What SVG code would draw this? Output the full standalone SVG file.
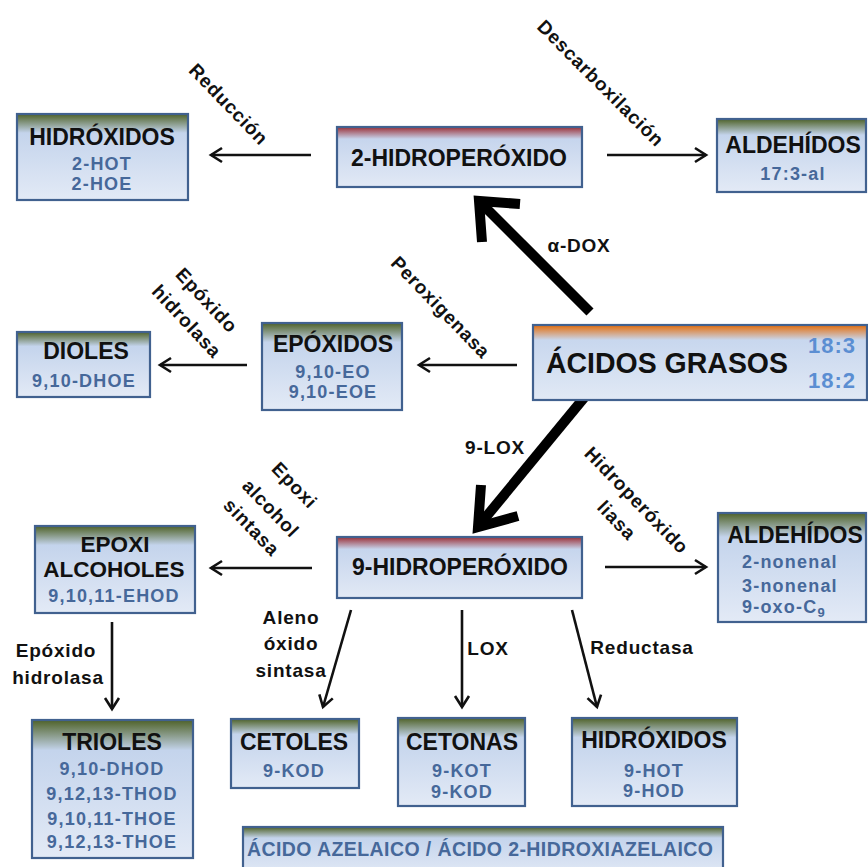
<svg xmlns="http://www.w3.org/2000/svg" width="868" height="867" viewBox="0 0 868 867">
<style>
.box{stroke:#41618f;stroke-width:2.2}
.t{font-family:"Liberation Sans",Arial,sans-serif;font-weight:bold;fill:#111;text-anchor:middle}
.title{font-size:23px}
.sub{font-size:18px;letter-spacing:1.2px;fill:#46689a}
.lab{font-family:"Liberation Sans",Arial,sans-serif;font-weight:bold;font-size:19px;letter-spacing:0.8px;fill:#111;text-anchor:middle}
.ln{stroke:#111;stroke-width:2.6;fill:none;marker-end:url(#ah)}
.thick{stroke:#000;stroke-width:10;fill:none}
</style>
<defs>
<linearGradient id="gG" x1="0" y1="0" x2="0" y2="1">
<stop offset="0" stop-color="#4f6228"/><stop offset="0.22" stop-color="#c4d4ec"/><stop offset="1" stop-color="#e3eaf6"/>
</linearGradient>
<linearGradient id="gR" x1="0" y1="0" x2="0" y2="1">
<stop offset="0" stop-color="#9b2f36"/><stop offset="0.2" stop-color="#c6d5ed"/><stop offset="1" stop-color="#e2e9f5"/>
</linearGradient>
<linearGradient id="gO" x1="0" y1="0" x2="0" y2="1">
<stop offset="0" stop-color="#e46c0a"/><stop offset="0.2" stop-color="#c8d7ee"/><stop offset="1" stop-color="#e1e9f5"/>
</linearGradient>
<marker id="ah" markerUnits="userSpaceOnUse" markerWidth="20" markerHeight="20" refX="0" refY="0" viewBox="-14 -10 16 20" orient="auto">
<path d="M-11,-7 L0,0 L-11,7" fill="none" stroke="#111" stroke-width="2.6"/>
</marker>
</defs>
<rect width="868" height="867" fill="#fff"/>

<g id="connectors">
<line class="ln" x1="311" y1="155" x2="211" y2="155"/>
<line class="ln" x1="607" y1="155" x2="706" y2="155"/>
<line class="ln" x1="247" y1="365" x2="160" y2="365"/>
<line class="ln" x1="517" y1="365" x2="419" y2="365"/>
<line class="ln" x1="312" y1="568" x2="211" y2="568"/>
<line class="ln" x1="605" y1="567" x2="706" y2="567"/>
<line class="ln" x1="112" y1="622" x2="112" y2="709"/>
<line class="ln" x1="351" y1="610" x2="323" y2="707"/>
<line class="ln" x1="462" y1="610" x2="462" y2="707"/>
<line class="ln" x1="572" y1="610" x2="597" y2="707"/>
<path class="thick" d="M590,312 L482,204"/>
<path class="thick" d="M520,204 L479,201 L482,242" stroke-linejoin="miter"/>
<path class="thick" d="M588,393 L481,523"/>
<path class="thick" d="M518,516 L478,527 L481,485" stroke-linejoin="miter"/>
<text class="lab" transform="translate(229,104) rotate(46)" dy="7">Reducción</text>
<text class="lab" transform="translate(601,83) rotate(45)" dy="7">Descarboxilación</text>
<text class="lab" transform="translate(207,300) rotate(47)" dy="7">Epóxido</text>
<text class="lab" transform="translate(187,321) rotate(47)" dy="7">hidrolasa</text>
<text class="lab" transform="translate(441,307) rotate(46)" dy="7">Peroxigenasa</text>
<text class="lab" x="579" y="252">α-DOX</text>
<text class="lab" x="495" y="454">9-LOX</text>
<text class="lab" transform="translate(637,500) rotate(46)" dy="7">Hidroperóxido</text>
<text class="lab" transform="translate(617,520) rotate(46)" dy="7">liasa</text>
<text class="lab" transform="translate(295,485) rotate(46)" dy="7">Epoxi</text>
<text class="lab" transform="translate(271,508) rotate(46)" dy="7">alcohol</text>
<text class="lab" transform="translate(252,527) rotate(46)" dy="7">sintasa</text>
<text class="lab" x="291" y="624">Aleno</text>
<text class="lab" x="291" y="650">óxido</text>
<text class="lab" x="291" y="677">sintasa</text>
<text class="lab" x="488" y="655">LOX</text>
<text class="lab" x="642" y="654">Reductasa</text>
<text class="lab" x="56" y="657">Epóxido</text>
<text class="lab" x="58" y="684">hidrolasa</text>
</g>

<g id="hidroxidos-top">
<rect class="box" x="17" y="114" width="171" height="86" fill="url(#gG)"/>
<text class="t title" x="102" y="145">HIDRÓXIDOS</text>
<text class="t sub" x="102" y="169.5">2-HOT</text>
<text class="t sub" x="102" y="190">2-HOE</text>
</g>
<g id="hidroperoxido-2">
<rect class="box" x="337" y="127" width="245" height="60" fill="url(#gR)"/>
<text class="t title" x="459" y="166">2-HIDROPERÓXIDO</text>
</g>
<g id="aldehidos-top">
<rect class="box" x="717" y="119" width="149" height="73" fill="url(#gG)"/>
<text class="t title" x="793" y="153">ALDEHÍDOS</text>
<text class="t sub" x="793" y="180">17:3-al</text>
</g>
<g id="dioles">
<rect class="box" x="17" y="332" width="133" height="65" fill="url(#gG)"/>
<text class="t title" x="86" y="359">DIOLES</text>
<text class="t sub" x="84" y="387">9,10-DHOE</text>
</g>
<g id="epoxidos">
<rect class="box" x="262" y="323" width="140" height="87" fill="url(#gG)"/>
<text class="t title" x="333" y="352">EPÓXIDOS</text>
<text class="t sub" x="333" y="377.5">9,10-EO</text>
<text class="t sub" x="333" y="398">9,10-EOE</text>
</g>
<g id="acidos-grasos">
<rect class="box" x="533" y="325" width="334" height="75" fill="url(#gO)"/>
<text class="t" style="font-size:29px" x="667" y="373" textLength="242" lengthAdjust="spacingAndGlyphs">ÁCIDOS GRASOS</text>
<text class="t" style="font-size:22px;letter-spacing:1px;fill:#5b8ed2" x="832" y="353">18:3</text>
<text class="t" style="font-size:22px;letter-spacing:1px;fill:#5b8ed2" x="832" y="388">18:2</text>
</g>
<g id="hidroperoxido-9">
<rect class="box" x="337" y="537" width="245" height="61" fill="url(#gR)"/>
<text class="t title" x="460" y="575">9-HIDROPERÓXIDO</text>
</g>
<g id="epoxi-alcoholes">
<rect class="box" x="35" y="526" width="160" height="87" fill="url(#gG)"/>
<text class="t" style="font-size:22.5px" x="115" y="551.5">EPOXI</text>
<text class="t" style="font-size:22.5px" x="114" y="577">ALCOHOLES</text>
<text class="t sub" x="114" y="602">9,10,11-EHOD</text>
</g>
<g id="aldehidos-bottom">
<rect class="box" x="718" y="513" width="148" height="109" fill="url(#gG)"/>
<text class="t title" x="795" y="543">ALDEHÍDOS</text>
<text class="t sub" x="742" y="568" style="text-anchor:start">2-nonenal</text>
<text class="t sub" x="742" y="592" style="text-anchor:start">3-nonenal</text>
<text class="t sub" x="742" y="613" style="text-anchor:start">9-oxo-C<tspan font-size="13" dy="4">9</tspan></text>
</g>
<g id="trioles">
<rect class="box" x="32" y="720" width="161" height="138" fill="url(#gG)"/>
<text class="t title" x="112" y="750">TRIOLES</text>
<text class="t sub" x="112" y="775">9,10-DHOD</text>
<text class="t sub" x="112" y="800">9,12,13-THOD</text>
<text class="t sub" x="112" y="825">9,10,11-THOE</text>
<text class="t sub" x="112" y="848">9,12,13-THOE</text>
</g>
<g id="cetoles">
<rect class="box" x="231" y="719" width="128" height="69" fill="url(#gG)"/>
<text class="t title" x="294" y="750">CETOLES</text>
<text class="t sub" x="294" y="777">9-KOD</text>
</g>
<g id="cetonas">
<rect class="box" x="398" y="718" width="127" height="88" fill="url(#gG)"/>
<text class="t title" x="462" y="750">CETONAS</text>
<text class="t sub" x="462" y="777">9-KOT</text>
<text class="t sub" x="462" y="798">9-KOD</text>
</g>
<g id="hidroxidos-bottom">
<rect class="box" x="572" y="718" width="165" height="88" fill="url(#gG)"/>
<text class="t title" x="654" y="748">HIDRÓXIDOS</text>
<text class="t sub" x="654" y="776.5">9-HOT</text>
<text class="t sub" x="654" y="797">9-HOD</text>
</g>
<g id="acido-azelaico">
<rect class="box" x="243" y="827" width="480" height="50" fill="url(#gG)"/>
<text class="t" style="font-size:19.5px;fill:#46689a" x="480" y="856" textLength="466">ÁCIDO AZELAICO / ÁCIDO 2-HIDROXIAZELAICO</text>
</g>
</svg>
